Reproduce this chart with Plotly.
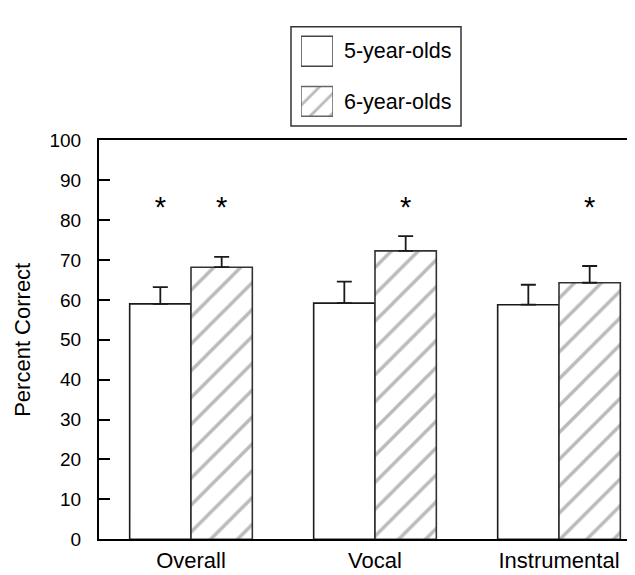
import plotly.graph_objects as go

categories = ["Overall", "Vocal", "Instrumental"]
series_names = ["5-year-olds", "6-year-olds"]
age5_mean = [59.0, 59.2, 58.8]
age5_err = [4.2, 5.4, 5.0]
age6_mean = [68.2, 72.3, 64.3]
age6_err = [2.6, 3.7, 4.2]
age5_sig = [True, False, False]
age6_sig = [True, True, True]
y_ticks = [0, 10, 20, 30, 40, 50, 60, 70, 80, 90, 100]
star_level = 82.5

W, H = 635, 575
FONT = "Liberation Sans, Arial, sans-serif"
HATCH = "#767676"
OUT = "#1a1a1a"

xidx = list(range(len(categories)))
bw = (1 - 1/3) / 2

fig = go.Figure()
fig.add_trace(go.Bar(
    x=xidx, y=age5_mean, name=series_names[0], showlegend=False,
    marker=dict(color="white", line=dict(color=OUT, width=1.6)),
    error_y=dict(type="data", array=age5_err, arrayminus=[0]*3, symmetric=False,
                 color=OUT, thickness=1.8, width=7.5),
))
fig.add_trace(go.Bar(
    x=xidx, y=age6_mean, name=series_names[1], showlegend=False,
    marker=dict(color="white", line=dict(color="#333333", width=1.6),
                pattern=dict(shape="/", fgcolor=HATCH, bgcolor="white", size=19, solidity=0.18)),
    error_y=dict(type="data", array=age6_err, arrayminus=[0]*3, symmetric=False,
                 color=OUT, thickness=1.8, width=7.5),
))

# significance stars
sx, sy = [], []
for i in xidx:
    if age5_sig[i]:
        sx.append(i - bw/2); sy.append(star_level)
    if age6_sig[i]:
        sx.append(i + bw/2); sy.append(star_level)
fig.add_trace(go.Scatter(x=sx, y=sy, mode="text", text=["*"]*len(sx),
                         textfont=dict(family=FONT, size=29, color="black"),
                         textposition="middle center", showlegend=False, hoverinfo="skip"))

# legend swatches (own small axes)
fig.add_trace(go.Bar(
    x=[1], y=[1], orientation="h", xaxis="x2", yaxis="y2", showlegend=False, hoverinfo="skip",
    marker=dict(color="white", line=dict(color="#444444", width=1.5)),
))
fig.add_trace(go.Bar(
    x=[1], y=[0], orientation="h", xaxis="x2", yaxis="y2", showlegend=False, hoverinfo="skip",
    marker=dict(color="white", line=dict(color="#666666", width=1.5),
                pattern=dict(shape="/", fgcolor=HATCH, bgcolor="white", size=14, solidity=0.2)),
))

px = lambda v: v / W
py = lambda v: (H - v) / H

fig.update_layout(
    width=W, height=H,
    margin=dict(l=0, r=0, t=0, b=0),
    paper_bgcolor="white", plot_bgcolor="white",
    barmode="group", bargap=1/3, bargroupgap=0,
    font=dict(family=FONT, size=22, color="black"),
    xaxis=dict(domain=[px(91), 1.0], range=[-0.5, (635 - 183) / 184],
               tickmode="array", tickvals=xidx, ticktext=categories,
               showline=True, linecolor="black", linewidth=2, mirror=True,
               ticks="", showgrid=False, zeroline=False,
               tickfont=dict(size=22), anchor="y"),
    yaxis=dict(domain=[py(541), py(127)], range=[0, 100],
               tickmode="array", tickvals=y_ticks,
               showline=True, linecolor="black", linewidth=2, mirror=False,
               ticks="inside", ticklen=11, tickwidth=1.5, tickcolor="black",
               ticklabelstandoff=12,
               showgrid=False, zeroline=False, tickfont=dict(size=19),
               title=dict(text="Percent Correct", font=dict(size=22), standoff=13),
               anchor="x"),
    xaxis2=dict(domain=[px(293), px(325)], range=[0, 1], visible=False, anchor="y2", fixedrange=True),
    yaxis2=dict(domain=[py(112.5), py(8.5)], range=[-0.5, 1.5], visible=False, anchor="x2", fixedrange=True),
    showlegend=False,
)
fig.update_traces(selector=dict(xaxis="x2"), width=31/52)

fig.add_shape(type="rect", xref="paper", yref="paper",
              x0=px(283), x1=px(453), y0=py(112), y1=py(9),
              line=dict(color="#333333", width=1.5), fillcolor="rgba(0,0,0,0)", layer="below")
fig.add_annotation(x=px(334), y=py(34), xref="paper", yref="paper", text=series_names[0],
                   showarrow=False, xanchor="left", yanchor="middle", font=dict(size=21.5))
fig.add_annotation(x=px(334), y=py(87), xref="paper", yref="paper", text=series_names[1],
                   showarrow=False, xanchor="left", yanchor="middle", font=dict(size=21.5))

fig.write_html("out.html")
